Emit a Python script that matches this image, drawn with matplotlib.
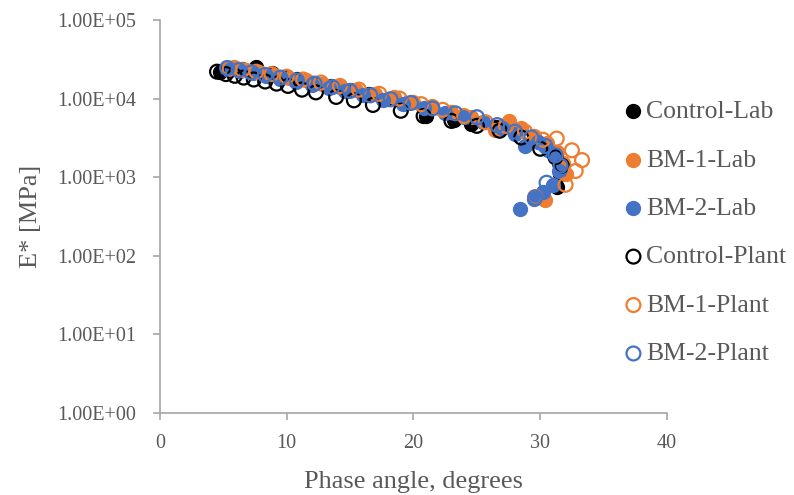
import numpy as np
import matplotlib
matplotlib.use("Agg")
import matplotlib.pyplot as plt

plt.rcParams['font.family'] = ['Liberation Serif', 'DejaVu Serif']

# Control-Lab (filled black)
ctrl_lab_x = [4.7, 5.5, 6.5, 7.6, 8.8, 10.0, 10.8, 12.0, 13.5, 15.0, 16.5, 18.0, 19.5,
              21.0, 23.2, 24.5, 26.5, 28.0, 29.5, 30.5, 31.2, 31.5, 31.6, 31.3]
ctrl_lab_e = [2.2e4, 2.3e4, 2.4e4, 2.55e4, 2.1e4, 1.9e4, 1.75e4, 1.6e4, 1.45e4, 1.3e4, 1.15e4,
              1.0e4, 8.8e3, 6.0e3, 5.3e3, 4.7e3, 4.3e3, 3.8e3, 3.0e3, 2.5e3, 2.0e3, 1.5e3, 1.1e3, 7.5e2]

# BM-1-Lab (filled orange)
bm1_lab_x = [5.8, 6.8, 7.8, 9.0, 10.2, 11.5, 12.8, 14.2, 15.5, 17.0, 18.5, 20.0, 21.5, 23.0,
             24.5, 26.4, 27.5, 28.5, 29.5, 30.5, 31.3, 31.8, 32.0, 30.4, 29.6]
bm1_lab_e = [2.5e4, 2.3e4, 2.15e4, 2.0e4, 1.85e4, 1.7e4, 1.55e4, 1.4e4, 1.3e4, 1.15e4, 1.05e4,
             9.0e3, 8.0e3, 6.8e3, 5.8e3, 4.0e3, 5.2e3, 4.2e3, 3.3e3, 2.7e3, 2.1e3, 1.5e3, 1.1e3, 5.2e2, 5.5e2]

# BM-2-Lab (filled blue)
bm2_lab_x = [5.3, 6.3, 7.3, 8.4, 9.5, 10.7, 12.0, 13.3, 14.6, 16.0, 17.6, 19.2, 20.8, 22.5,
             24.0, 25.5, 27.0, 28.0, 28.8, 29.8, 30.6, 31.2, 31.5, 31.0, 30.2, 29.5, 28.4]
bm2_lab_e = [2.4e4, 2.25e4, 2.1e4, 1.95e4, 1.8e4, 1.65e4, 1.5e4, 1.35e4, 1.25e4, 1.1e4, 9.5e3,
             8.5e3, 7.5e3, 6.5e3, 5.8e3, 5.0e3, 4.2e3, 3.5e3, 2.5e3, 2.8e3, 2.2e3, 1.8e3, 1.2e3,
             8.0e2, 6.5e2, 5.3e2, 3.9e2]

# Control-Plant (open black)
ctrl_pl_x = [4.5, 5.2, 5.9, 6.6, 7.4, 8.3, 9.2, 10.1, 11.2, 12.3, 13.9, 15.3, 16.8, 19.0,
             20.8, 23.0, 25.0, 26.8, 28.5, 30.0, 31.2, 31.7]
ctrl_pl_e = [2.2e4, 2.05e4, 1.95e4, 1.85e4, 1.75e4, 1.65e4, 1.55e4, 1.45e4, 1.3e4, 1.2e4, 1.05e4,
             9.5e3, 8.3e3, 7.0e3, 6.0e3, 5.2e3, 4.5e3, 3.9e3, 3.2e3, 2.3e3, 1.8e3, 1.4e3]

# BM-1-Plant (open orange)
bm1_pl_x = [5.5, 6.5, 7.6, 8.8, 10.0, 11.3, 12.7, 14.2, 15.7, 17.3, 18.9, 20.6, 22.3, 24.0,
            25.7, 27.3, 28.8, 30.2, 31.3, 32.5, 33.3, 32.8, 32.0, 29.6]
bm1_pl_e = [2.4e4, 2.3e4, 2.2e4, 2.05e4, 1.9e4, 1.75e4, 1.6e4, 1.45e4, 1.3e4, 1.15e4, 1.0e4,
            8.5e3, 7.2e3, 6.0e3, 5.0e3, 4.5e3, 3.8e3, 3.0e3, 3.1e3, 2.2e3, 1.65e3, 1.2e3, 8.0e2, 5.6e2]

# BM-2-Plant (open blue)
bm2_pl_x = [5.3, 6.2, 7.2, 8.3, 9.5, 10.8, 12.2, 13.6, 15.0, 16.6, 18.2, 19.8, 21.5, 23.3,
            25.0, 26.6, 28.0, 29.3, 30.4, 31.2, 31.6, 30.5, 29.6]
bm2_pl_e = [2.45e4, 2.3e4, 2.15e4, 2.0e4, 1.85e4, 1.7e4, 1.55e4, 1.4e4, 1.25e4, 1.1e4, 9.8e3,
            8.8e3, 7.5e3, 6.5e3, 5.8e3, 4.6e3, 3.8e3, 3.2e3, 2.5e3, 1.9e3, 1.4e3, 8.5e2, 5.5e2]

black = '#000000'
orange = '#ED7D31'
blue = '#4472C4'
grey = '#A6A6A6'
text_grey = '#595959'

fig = plt.figure(figsize=(7.94, 4.95), dpi=100)
ax = fig.add_axes([0.2015, 0.1657, 0.6385, 0.7939])

s = 100
ax.scatter(ctrl_lab_x, ctrl_lab_e, s=s, c=black, label='Control-Lab', zorder=3)
ax.scatter(bm1_lab_x, bm1_lab_e, s=s, c=orange, label='BM-1-Lab', zorder=3)
ax.scatter(bm2_lab_x, bm2_lab_e, s=s, c=blue, label='BM-2-Lab', zorder=3)
ax.scatter(ctrl_pl_x, ctrl_pl_e, s=s, facecolors='none', edgecolors=black, linewidths=1.6,
           label='Control-Plant', zorder=4)
ax.scatter(bm1_pl_x, bm1_pl_e, s=s, facecolors='none', edgecolors=orange, linewidths=1.6,
           label='BM-1-Plant', zorder=4)
ax.scatter(bm2_pl_x, bm2_pl_e, s=s, facecolors='none', edgecolors=blue, linewidths=1.6,
           label='BM-2-Plant', zorder=4)

ax.set_yscale('log')
ax.set_xlim(0, 40)
ax.set_ylim(1, 1e5)
ax.set_xticks([0, 10, 20, 30, 40])
yt = [1, 10, 100, 1000, 10000, 100000]
ax.set_yticks(yt)
ax.set_yticklabels(['1.00E+%02d' % i for i in range(6)])
ax.yaxis.set_minor_locator(matplotlib.ticker.NullLocator())

for side in ['top', 'right']:
    ax.spines[side].set_visible(False)
for side in ['left', 'bottom']:
    ax.spines[side].set_color(grey)
    ax.spines[side].set_linewidth(1.2)
ax.tick_params(axis='both', colors=grey, labelcolor=text_grey, labelsize=14.5, length=5, width=1.2)
ax.tick_params(axis='y', pad=12)
ax.tick_params(axis='x', pad=10)

ax.set_xlabel('Phase angle, degrees', fontsize=19, color=text_grey, labelpad=13)
ax.set_ylabel('E* [MPa]', fontsize=19, color=text_grey, labelpad=11)

leg = ax.legend(loc='upper left', bbox_to_anchor=(0.868, 0.855), frameon=False, fontsize=18.5,
                handletextpad=0.1, labelspacing=0.99, markerscale=1.0, handlelength=0.8,
                labelcolor=text_grey)

fig.savefig('out.png', dpi=100)
